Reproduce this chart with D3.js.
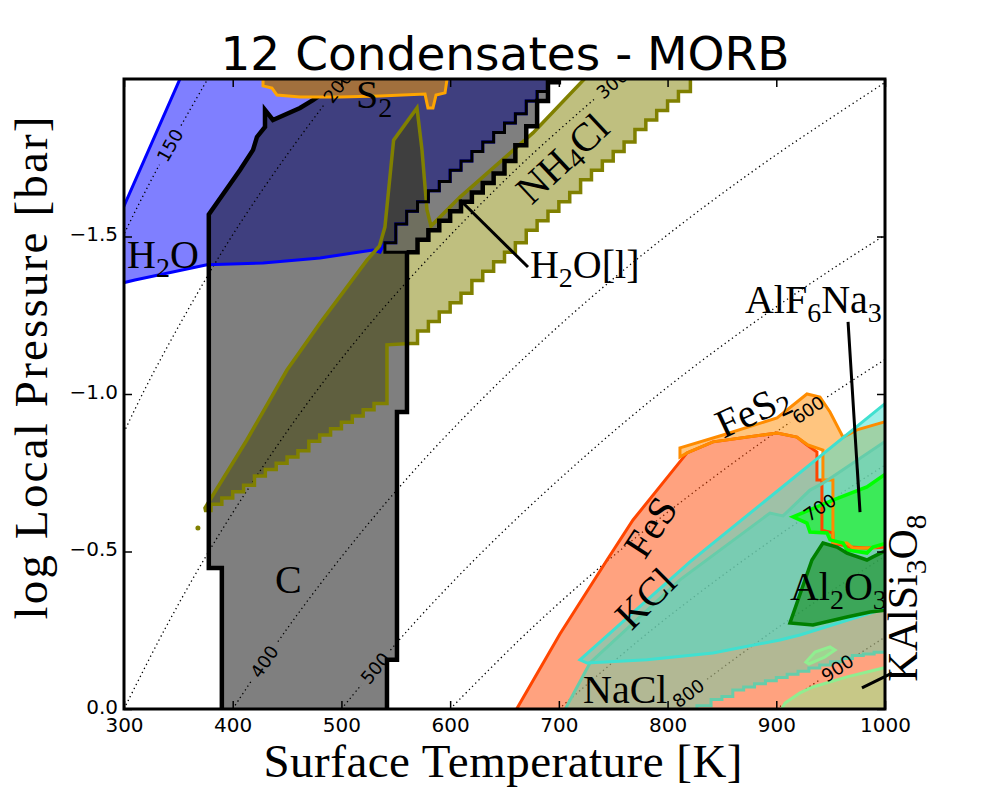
<!DOCTYPE html>
<html><head><meta charset="utf-8">
<script src="https://cdn.jsdelivr.net/npm/d3@7"></script>
<style>body{margin:0;background:#fff}</style>
</head><body><svg id="c" width="985" height="788"></svg>
<script>
// ---------------- DATA (T [K], log P [bar]) ----------------
const xTicks = [300,400,500,600,700,800,900,1000];
const xTickLabels = ["300","400","500","600","700","800","900","1000"];
const yTicks = [0,-0.5,-1.0,-1.5];
const yTickLabels = ["0.0","\u22120.5","\u22121.0","\u22121.5"];

// dotted iso-lines: temperature at each log P
const contourLevels = [150,200,300,400,500,600,700,800,900];
const contourLogP = [0,-0.25,-0.5,-0.75,-1,-1.25,-1.5,-1.75,-2];
const contourTemps = [
 [150,168,189,212,238,267,299,336,377],
 [200,224,252,283,317,356,399,448,502],
 [300,337,378,424,475,533,599,672,754],
 [400,449,504,565,634,711,798,896,1005],
 [500,561,630,707,792,889,998,1120,1256],
 [600,673,755,848,951,1067,1197,1343,1507],
 [700,785,881,989,1109,1245,1396,1567,1758],
 [800,898,1007,1130,1268,1423,1596,1791,2010],
 [900,1010,1133,1271,1427,1601,1796,2015,2261]];
const contourLabelLogP = [-1.79,-1.975,-1.985,-0.15,-0.13,-0.95,-0.64,-0.05,-0.13];

// H2O (ice)
const h2oOuter = [[298,-1.581],[354,-2.02],[692,-2.02]];
const h2oStair = [[540,-1.48],[550,-1.54],[560,-1.58],[570,-1.61],[580,-1.645],[590,-1.675],[600,-1.71],[610,-1.74],[620,-1.77],[630,-1.80],[640,-1.83],[650,-1.86],[660,-1.89],[670,-1.93],[680,-1.96],[690,-2.02]];
const h2oBottom = [[535.5,-1.45],[529,-1.457],[480.3,-1.432],[427.9,-1.416],[376.3,-1.41],[310,-1.362],[298,-1.352]];
// H2O[l] / C boundary staircase
const wetStair = [[540,-1.45],[550,-1.45],[560,-1.45],[570,-1.49],[580,-1.52],[590,-1.55],[600,-1.58],[610,-1.61],[620,-1.64],[630,-1.67],[640,-1.70],[650,-1.74],[660,-1.79],[670,-1.85],[680,-1.93],[690,-1.99],[700,-2.02]];
// C (graphite)
const cLeft = [[390,0.02],[390,-0.448],[378,-0.448],[378,-1.57],[406.7,-1.711],[418.7,-1.775],[422.3,-1.816],[429.7,-1.848],[429.7,-1.902],[437,-1.87],[461.9,-1.908],[473.8,-1.933],[489.5,-1.971],[498.7,-2.02]];
const cRight = [[560.3,-0.943],[551.1,-0.943],[551.1,-0.156],[541.9,-0.156],[541.9,0.02]];
// NH4Cl
const nh4clUpper = [[374.5,-0.638],[413,-0.854],[449.9,-1.076],[480.3,-1.225],[498.7,-1.31],[523.5,-1.425],[535,-1.47],[540,-1.53],[548,-1.806],[569.5,-1.908],[574.1,-1.775],[578.7,-1.584],[582.4,-1.533],[609.1,-1.625],[676.2,-1.829],[729,-2.02],[821,-2.02]];
const nh4clStairHigh = [[563,-1.16],[570,-1.20],[580,-1.23],[590,-1.26],[600,-1.29],[610,-1.32],[620,-1.36],[630,-1.39],[640,-1.42],[650,-1.45],[660,-1.48],[670,-1.52],[680,-1.55],[690,-1.58],[700,-1.61],[710,-1.64],[720,-1.68],[730,-1.71],[740,-1.74],[750,-1.77],[760,-1.80],[770,-1.84],[780,-1.87],[790,-1.90],[800,-1.93],[810,-1.96],[821,-2.02]];
const nh4clStairLow = [[375,-0.63],[380,-0.65],[390,-0.67],[400,-0.69],[410,-0.71],[420,-0.74],[430,-0.76],[440,-0.78],[450,-0.80],[460,-0.82],[470,-0.85],[480,-0.87],[490,-0.89],[500,-0.91],[510,-0.93],[520,-0.95],[530,-0.97],[541.9,-0.99]];
const nh4clDot = [368,-0.575];
// S2
const s2Poly = [[427.9,-2.02],[427.9,-1.978],[436.1,-1.971],[440.7,-1.949],[461.9,-1.943],[498.7,-1.943],[535.5,-1.946],[576.9,-1.952],[579.6,-1.908],[584.2,-1.908],[587,-1.949],[595.3,-1.956],[598,-2.02]];
// FeS
const fesPoly = [[657.8,0.02],[701,-0.238],[744.3,-0.473],[768.2,-0.6],[817.9,-0.813],[841.8,-0.848],[900.7,-0.876],[919,-0.863],[928.2,-0.838],[937.4,-0.816],[937.4,-0.727],[942,-0.727],[942,-0.568],[952.1,-0.559],[952.1,-0.527],[967.8,-0.514],[983.4,-0.511],[1002,-0.514],[1002,0.02]];
// FeS2
const fes2Poly = [[811.4,-0.829],[851,-0.87],[900.7,-0.924],[928.2,-1.0],[940.2,-0.99],[949.4,-0.943],[961.4,-0.863],[974.2,-0.886],[1002,-0.914],[1002,-0.527],[988.9,-0.511],[970.5,-0.511],[965,-0.527],[952.1,-0.527],[952.1,-0.727],[942.9,-0.727],[942.9,-0.822],[929.2,-0.838],[919,-0.863],[900.7,-0.876],[841.8,-0.848],[817.9,-0.813],[811.4,-0.8]];
// KCl
const kclPoly = [[719.4,-0.156],[820.6,-0.467],[1002,-0.975],[1002,-0.321],[995.4,-0.314],[921.8,-0.235],[903.4,-0.219],[841.8,-0.178],[781,-0.156],[725.9,-0.146]];
// NaCl
const naclUpper = [[702.8,0.02],[728.6,-0.146],[811.4,-0.41],[894.2,-0.622],[906.2,-0.613],[931,-0.695],[942.9,-0.717],[1002,-0.854]];
const naclStair = [[827,-0.01],[840,-0.03],[850,-0.04],[860,-0.06],[870,-0.07],[880,-0.08],[890,-0.09],[900,-0.10],[910,-0.11],[920,-0.12],[930,-0.13],[940,-0.14],[950,-0.15],[960,-0.16],[970,-0.17],[980,-0.175],[990,-0.18],[1002,-0.19]];
// AlF6Na3
const alf6Poly = [[915.4,-0.61],[952.1,-0.663],[983.4,-0.705],[1002,-0.75],[1002,-0.527],[988.9,-0.514],[983.4,-0.495],[965,-0.505],[961.4,-0.527],[949.4,-0.537],[946.6,-0.559],[931,-0.562],[928.2,-0.59]];
// Al2O3
const al2o3Poly = [[942.9,-0.527],[955.8,-0.514],[965,-0.495],[983.4,-0.473],[988.9,-0.483],[1002,-0.505],[1002,-0.314],[986.2,-0.308],[965,-0.292],[933.7,-0.267],[912.6,-0.273],[932.8,-0.473]];
// KAlSi3O8
const kalsiPoly = [[901.6,0.02],[908,-0.019],[921.8,-0.051],[933.7,-0.07],[965,-0.102],[1002,-0.133],[1002,0.02]];
const kalsiBlob = [[927.3,-0.149],[935.6,-0.181],[949.4,-0.197],[954,-0.187],[944.8,-0.165],[930.1,-0.143]];

// annotation pointer lines
const pointerH2Ol = [[609.1,-1.616],[671.6,-1.403]];
const pointerAlF6 = [[966,-1.229],[977,-0.625]];
const pointerKAlSi = [[978.8,-0.067],[1006.4,-0.114]];

// ---------------- DRAW ----------------
const svg = d3.select("#c");
const x = d3.scaleLinear().domain([300,1000]).range([124,885]);
const y = d3.scaleLinear().domain([0,-2]).range([709,79]);

function stairs(p){const o=[];for(let i=0;i<p.length;i++){o.push(p[i]);if(i<p.length-1)o.push([p[i+1][0],p[i][1]]);}return o;}
const rev = a => a.slice().reverse();

const polys = {
  h2o: [...h2oOuter, ...rev(stairs(h2oStair)), ...h2oBottom],
  nh4cl: [...nh4clUpper, ...rev(stairs(nh4clStairHigh)), [541.9,-1.156], ...rev(stairs(nh4clStairLow))],
  c: [...cLeft, [700,-2.02], ...rev(stairs(wetStair)).slice(0,-4), [560.3,-1.45], ...cRight],
  h2ol: [...stairs(h2oStair), ...rev(stairs(wetStair))],
  s2: s2Poly,
  fes: fesPoly,
  fes2: fes2Poly,
  nacl: [...naclUpper, ...rev(stairs(naclStair)), [827,0.02]],
  kcl: kclPoly,
  alf6: alf6Poly,
  al2o3: al2o3Poly,
  kalsi: kalsiPoly,
  blob: kalsiBlob
};
// [key, fill, stroke, width, fillOpacity]
const lowStyles = [
  ["h2o","blue","blue",3,0.5],
  ["nh4cl","olive","olive",3.5,0.5],
  ["c","black","black",4.5,0.5],
  ["h2ol","#808080","black",3,0.5]
];
const highStyles = [
  ["s2","#a2703d","orange",3,1],
  ["fes","orangered","orangered",3,0.5],
  ["fes2","darkorange","darkorange",3,0.5],
  ["nacl","mediumaquamarine","mediumaquamarine",3,0.5],
  ["kcl","turquoise","turquoise",3,0.5],
  ["alf6","lime","lime",3.5,0.5],
  ["al2o3","green","green",3.5,0.5],
  ["kalsi","lightgreen","lightgreen",3,0.5],
  ["blob","lightgreen","lightgreen",3,0.5]
];

const defs = svg.append("defs");
defs.append("clipPath").attr("id","plot").append("rect").attr("x",124).attr("y",79).attr("width",761).attr("height",630);

const line = d3.line().x(d=>x(d[0])).y(d=>y(d[1]));
const plot = svg.append("g").attr("clip-path","url(#plot)");

function drawFills(list){
  const g = plot.append("g");
  list.forEach(([k,f,s,w,o])=>{
    g.append("path").attr("d",line(polys[k])+"Z").attr("fill",f).attr("fill-opacity",o).attr("stroke","none");
  });
}
function drawStrokes(list){
  const g = plot.append("g");
  list.forEach(([k,f,s,w])=>{
    g.append("path").attr("d",line(polys[k])+"Z").attr("fill","none").attr("stroke",s)
      .attr("stroke-width",w).attr("stroke-linejoin","miter");
  });
}

drawFills(lowStyles);

// contour lines
const cline = d3.line().x(d=>x(d[0])).y(d=>y(d[1])).curve(d3.curveCatmullRom);
const mask = defs.append("mask").attr("id","cmask").attr("maskUnits","userSpaceOnUse").attr("x",0).attr("y",0).attr("width",985).attr("height",788);
mask.append("rect").attr("width",985).attr("height",788).attr("fill","white");
const cg = plot.append("g").attr("mask","url(#cmask)");
const labelInfo = [];
contourLevels.forEach((lev,i)=>{
  const pts = contourTemps[i].map((t,j)=>[t,contourLogP[j]]);
  const p = cg.append("path").attr("d",cline(pts)).attr("fill","none").attr("stroke","black")
    .attr("stroke-width",1.3).attr("stroke-dasharray","1.3,3.2");
  const node = p.node(), L = node.getTotalLength(), ty = y(contourLabelLogP[i]);
  let best=0, bd=1e9;
  for(let l=0;l<=L;l+=0.5){const q=node.getPointAtLength(l);const d=Math.abs(q.y-ty);if(d<bd){bd=d;best=l;}}
  const c = node.getPointAtLength(best), a=node.getPointAtLength(Math.max(0,best-4)), b=node.getPointAtLength(Math.min(L,best+4));
  const ang = Math.atan2(b.y-a.y,b.x-a.x)*180/Math.PI;
  labelInfo.push({lev,cx:c.x,cy:c.y,ang});
  mask.append("rect").attr("x",-22).attr("y",-9).attr("width",44).attr("height",18).attr("fill","black")
    .attr("transform",`translate(${c.x},${c.y}) rotate(${ang})`);
});

drawStrokes(lowStyles);
plot.append("circle").attr("cx",x(nh4clDot[0])).attr("cy",y(nh4clDot[1])).attr("r",2.5).attr("fill","olive");

drawFills(highStyles);
drawStrokes(highStyles);

// contour labels
labelInfo.forEach(d=>{
  plot.append("text").attr("transform",`translate(${d.cx},${d.cy}) rotate(${d.ang})`)
    .attr("text-anchor","middle").attr("dominant-baseline","central")
    .style("font-family","DejaVu Sans").style("font-size","18px").text(d.lev);
});

// pointer lines
[pointerH2Ol,pointerAlF6,pointerKAlSi].forEach(p=>{
  svg.append("path").attr("d",line(p)).attr("stroke","black").attr("stroke-width",3).attr("fill","none");
});

// region labels
function lab(txt,T,v,opt={}){
  const t = svg.append("text").style("font-family","Liberation Serif").style("font-size",(opt.size||40)+"px")
    .attr("transform",`translate(${x(T)},${y(v)}) rotate(${opt.rot||0})`)
    .attr("text-anchor",opt.anchor||"start");
  if(opt.central) t.attr("dominant-baseline","central");
  const parts = txt.split(/(_\d)/).filter(s=>s.length);
  let sub=false;
  parts.forEach(s=>{
    if(s[0]==="_"){ t.append("tspan").attr("dy",9).style("font-size","0.7em").text(s.slice(1)); sub=true; }
    else { const ts=t.append("tspan").text(s); if(sub){ts.attr("dy",-9); sub=false;} }
  });
}
lab("H_2O",302.8,-1.4);
lab("S_2",513.4,-1.908);
lab("NH_4Cl",703,-1.749,{rot:-43,anchor:"middle",central:true});
lab("H_2O[l]",673.4,-1.368);
lab("AlF_6Na_3",871.2,-1.257);
lab("FeS_2",877.7,-0.949,{rot:-25,anchor:"middle",central:true});
lab("FeS",783.9,-0.578,{rot:-57,anchor:"middle",central:true});
lab("KCl",779.3,-0.352,{rot:-45,anchor:"middle",central:true});
lab("NaCl",722.2,-0.019);
lab("Al_2O_3",912.6,-0.346);
lab("KAlSi_3O_8",1029.5,-0.352,{rot:-90,anchor:"middle",size:42});
lab("C",438.9,-0.368);

// axes
const axStyle = g=>{g.select(".domain").remove();g.selectAll(".tick line").attr("stroke-width",1.5);
  g.selectAll("text").style("font-family","DejaVu Sans").style("font-size","20px").attr("fill","black");};
svg.append("g").attr("transform","translate(0,709)")
  .call(d3.axisBottom(x).tickValues(xTicks).tickFormat((d,i)=>xTickLabels[i]).tickSizeInner(-8).tickSizeOuter(0).tickPadding(9)).call(axStyle);
svg.append("g").attr("transform","translate(0,79)")
  .call(d3.axisTop(x).tickValues(xTicks).tickSizeInner(-8).tickSizeOuter(0).tickFormat("")).call(axStyle);
const gy = svg.append("g").attr("transform","translate(124,0)")
  .call(d3.axisLeft(y).tickValues(yTicks).tickFormat((d,i)=>yTickLabels[i]).tickSizeInner(-8).tickSizeOuter(0).tickPadding(6)).call(axStyle);
gy.selectAll("text").attr("dy","0.2em");
svg.append("g").attr("transform","translate(885,0)")
  .call(d3.axisRight(y).tickValues(yTicks).tickSizeInner(-8).tickSizeOuter(0).tickFormat("")).call(axStyle);

svg.append("rect").attr("x",124).attr("y",79).attr("width",761).attr("height",630)
  .attr("fill","none").attr("stroke","black").attr("stroke-width",3);

// titles
svg.append("text").attr("x",505).attr("y",70).attr("text-anchor","middle")
  .style("font-family","DejaVu Sans").style("font-size","47px").text("12 Condensates - MORB");
svg.append("text").attr("x",503).attr("y",777).attr("text-anchor","middle")
  .attr("textLength",479).style("font-family","Liberation Serif").style("font-size","47px").text("Surface Temperature [K]");
svg.append("text").attr("transform","translate(47,368) rotate(-90)").attr("text-anchor","middle")
  .attr("textLength",503).style("font-family","Liberation Serif").style("font-size","47px").text("log Local Pressure [bar]");
</script></body></html>
